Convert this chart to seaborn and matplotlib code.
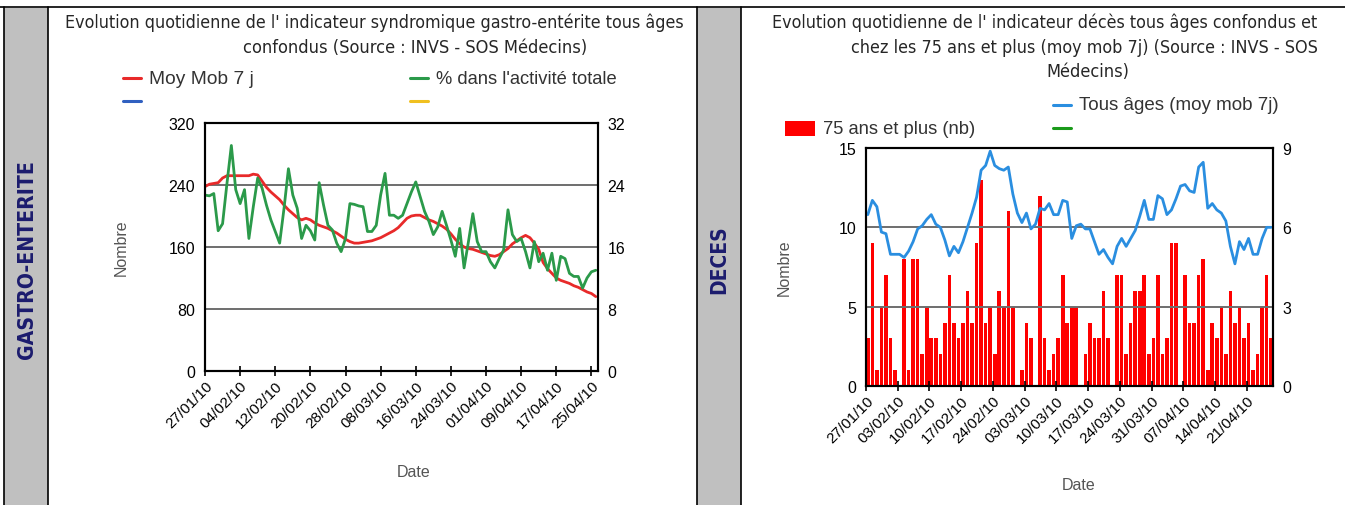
import numpy as np
import pandas as pd
import seaborn as sns
import matplotlib.pyplot as plt
from matplotlib import font_manager
from matplotlib.lines import Line2D
from matplotlib.patches import Rectangle

# ---- donnees gastro-enterite (27/01/10 -> 26/04/10)
gastro_days = np.arange(90)
gastro_moy = [238, 241, 242, 243, 249, 252, 252, 252, 252, 252, 252, 254, 253, 245, 237,
              231, 226, 221, 214, 208, 203, 198, 195, 197, 195, 191, 188, 186, 184, 181,
              178, 174, 170, 167, 165, 165, 166, 167, 168, 170, 172, 175, 178, 181, 185,
              191, 197, 200, 201, 201, 198, 195, 193, 190, 187, 183, 177, 170, 164, 160,
              158, 157, 155, 153, 151, 149, 148, 150, 154, 158, 164, 168, 172, 175, 172,
              165, 157, 140, 132, 126, 120, 117, 115, 113, 110, 108, 105, 102, 100, 96]
gastro_pct = [22.7, 22.6, 22.9, 18.1, 19.0, 24.2, 29.1, 23.4, 21.6, 23.4, 17.1, 21.2, 24.9, 23.6, 21.4,
              19.5, 18.0, 16.5, 21.0, 26.1, 22.7, 21.0, 17.1, 18.8, 18.1, 16.9, 24.3, 21.4, 18.8, 18.2,
              16.5, 15.4, 17.1, 21.6, 21.5, 21.3, 21.2, 18.0, 18.0, 18.8, 22.7, 25.5, 20.1, 20.1, 19.7,
              20.1, 21.6, 23.1, 24.4, 22.5, 20.6, 19.3, 17.6, 18.6, 20.6, 18.8, 16.9, 14.8, 18.4, 13.3,
              16.7, 20.3, 16.7, 15.4, 15.4, 14.1, 13.3, 14.5, 15.6, 20.8, 17.6, 16.7, 17.1, 15.4, 13.3,
              16.7, 14.1, 15.2, 13.0, 15.2, 11.7, 14.8, 14.5, 12.6, 12.2, 12.2, 10.7, 12.0, 12.8, 13.0]
gastro_ticks = ['27/01/10', '04/02/10', '12/02/10', '20/02/10', '28/02/10', '08/03/10',
                '16/03/10', '24/03/10', '01/04/10', '09/04/10', '17/04/10', '25/04/10']

# ---- donnees deces (27/01/10 -> 26/04/10)
deces_days = np.arange(90)
deces_75 = [3, 9, 1, 5, 7, 3, 1, 0, 8, 1, 8, 8, 2, 5, 3, 3, 2, 4, 7, 4, 3, 4, 6, 4, 9,
            13, 4, 5, 2, 6, 5, 11, 5, 0, 1, 4, 3, 0, 12, 3, 1, 2, 3, 7, 4, 5, 5, 0, 2, 4,
            3, 3, 6, 3, 0, 7, 7, 2, 4, 6, 6, 7, 2, 3, 7, 2, 3, 9, 9, 0, 7, 4, 4, 7, 8,
            1, 4, 3, 5, 2, 6, 4, 5, 3, 4, 1, 2, 5, 7, 3]
# moyenne mobile tous ages (echelle de droite 0-9)
deces_tous = [6.48, 7.02, 6.78, 5.82, 5.76, 4.98, 4.98, 4.98, 4.86, 5.10, 5.46, 5.94, 6.06, 6.30, 6.48,
              6.12, 6.00, 5.52, 4.92, 5.28, 5.04, 5.46, 6.00, 6.54, 7.14, 8.16, 8.34, 8.88, 8.34, 8.22,
              8.16, 8.28, 7.26, 6.54, 6.18, 6.54, 5.94, 6.12, 6.72, 6.66, 6.90, 6.48, 6.48, 7.02, 6.96,
              5.58, 6.06, 6.12, 5.94, 5.94, 5.46, 4.98, 5.16, 4.86, 4.62, 5.28, 5.58, 5.28, 5.58, 5.88,
              6.42, 7.02, 6.30, 6.30, 7.20, 7.08, 6.48, 6.66, 7.08, 7.56, 7.62, 7.38, 7.32, 8.28, 8.46,
              6.72, 6.90, 6.66, 6.54, 6.24, 5.28, 4.62, 5.46, 5.16, 5.58, 4.98, 4.98, 5.58, 6.00, 6.00]
deces_ticks = ['27/01/10', '03/02/10', '10/02/10', '17/02/10', '24/02/10', '03/03/10', '10/03/10',
               '17/03/10', '24/03/10', '31/03/10', '07/04/10', '14/04/10', '21/04/10']

day_labels = list(pd.date_range('2010-01-27', periods=90).strftime('%d/%m/%y'))

RED, GREEN, BLUE = '#e82a2a', '#2b9a4a', '#2a8ee0'

sns.set_style('white')
plt.rcParams['font.family'] = ['Liberation Sans', 'DejaVu Sans']

names = {f.name for f in font_manager.fontManager.ttflist}
NARROW = 'Liberation Sans Narrow' if 'Liberation Sans Narrow' in names else 'DejaVu Sans'

W, H = 1345, 506
fig = plt.figure(figsize=(W / 100, H / 100), dpi=100)


def fx(x):
    return x / W


def fy(y):
    return 1 - y / H


def fit_text(t, length):
    # ajuste la taille de police pour obtenir la longueur voulue (px)
    r = fig.canvas.get_renderer()
    bb = t.get_window_extent(r)
    cur = bb.height if t.get_rotation() else bb.width
    t.set_fontsize(t.get_fontsize() * length / cur)


def narrow_text(x, y, s, length, **kw):
    t = fig.text(fx(x), fy(y), s, family=NARROW, fontstretch='condensed', va='center', **kw)
    fit_text(t, length)
    return t


def legend_line(x, y, color, label=None, length=None):
    fig.add_artist(Line2D([fx(x), fx(x + 18)], [fy(y)] * 2, color=color, lw=2.2))
    if label:
        t = fig.text(fx(x + 26), fy(y), label, va='center', ha='left', color='#333333', fontsize=11)
        fit_text(t, length)


# ---- cadres et bandeaux gris
for x0, x1 in [(4, 48), (697, 741)]:
    fig.add_artist(Rectangle((fx(x0), 0), fx(x1) - fx(x0), fy(9), facecolor='#c0c0c0', edgecolor='none'))
    for xx in (x0, x1):
        fig.add_artist(Line2D([fx(xx)] * 2, [0, fy(8)], color='black', lw=1.2))
fig.add_artist(Line2D([0, 1], [fy(8)] * 2, color='black', lw=1.2))

narrow_text(27, 260, 'GASTRO-ENTERITE', 198, rotation=90, ha='center', color='#1c1c6e', weight='bold')
narrow_text(719, 260, 'DECES', 68, rotation=90, ha='center', color='#1c1c6e', weight='bold')

# ---- titres
narrow_text(65, 23, "Evolution quotidienne de l' indicateur syndromique gastro-entérite tous âges", 618, ha='left')
narrow_text(243, 48, 'confondus (Source : INVS - SOS Médecins)', 345, ha='left')
narrow_text(772, 23, "Evolution quotidienne de l' indicateur décès tous âges confondus et", 544, ha='left')
narrow_text(851, 48, 'chez les 75 ans et plus (moy mob 7j) (Source : INVS - SOS', 468, ha='left')
narrow_text(1046, 72, 'Médecins)', 83, ha='left')

# ---- legendes
legend_line(123, 79, RED, 'Moy Mob 7 j', 104)
legend_line(410, 79, GREEN, "% dans l'activité totale", 181)
legend_line(123, 102, '#3060c0')
legend_line(410, 102, '#f0c020')
legend_line(1053, 106, BLUE, 'Tous âges (moy mob 7j)', 199)
legend_line(1053, 129, '#1a9a1a')
fig.add_artist(Rectangle((fx(785), fy(137)), fx(815) - fx(785), fy(122) - fy(137),
                         facecolor='#ff0000', edgecolor='none'))
t = fig.text(fx(823), fy(130), '75 ans et plus (nb)', va='center', ha='left', color='#333333', fontsize=11)
fit_text(t, 152)


def style_axes(ax, ax2):
    for a in (ax, ax2):
        for s in a.spines.values():
            s.set_visible(True)
            s.set_color('black')
            s.set_linewidth(1.5)
    ax.tick_params(axis='y', length=0, pad=7, labelsize=11.5, labelcolor='black')
    ax2.tick_params(axis='y', length=0, pad=7, labelsize=11.5, labelcolor='black')
    ax.tick_params(axis='x', direction='inout', length=7, width=1.2, color='black',
                   labelsize=11, labelcolor='black', pad=2, bottom=True)
    ax.yaxis.grid(True, color='#6e6e6e', lw=1.4)
    ax.xaxis.grid(False)
    ax2.grid(False)
    ax.set_ylabel('Nombre', color='#555555', fontsize=11.5)
    ax.set_xlabel('Date', color='#555555', fontsize=11.5)
    ax2.set_ylabel('')
    for lab in ax.get_xticklabels():
        lab.set_rotation(45)
        lab.set_ha('right')
        lab.set_rotation_mode('anchor')


# ---- graphique gastro-enterite
ax = fig.add_axes([fx(205), fy(372), fx(598) - fx(205), fy(124) - fy(372)])
ax2 = ax.twinx()
sns.lineplot(x=gastro_days, y=gastro_moy, ax=ax, color=RED, lw=2)
sns.lineplot(x=gastro_days, y=gastro_pct, ax=ax2, color=GREEN, lw=2)
ax.set_ylim(0, 320)
ax.set_yticks([0, 80, 160, 240, 320])
ax2.set_ylim(0, 32)
ax2.set_yticks([0, 8, 16, 24, 32])
ax.set_xlim(0, 89.5)
ax.set_xticks([day_labels.index(d) for d in gastro_ticks])
ax.set_xticklabels(gastro_ticks)
style_axes(ax, ax2)
ax.yaxis.set_label_coords(-0.193, 0.5)
ax.xaxis.set_label_coords(0.53, -0.375)

# ---- graphique deces
bx = fig.add_axes([fx(866), fy(387), fx(1273) - fx(866), fy(149) - fy(387)])
sns.barplot(x=deces_days, y=deces_75, ax=bx, color='#ff0000', width=0.8,
            errorbar=None, saturation=1, linewidth=0)
bx2 = bx.twinx()
sns.lineplot(x=deces_days, y=deces_tous, ax=bx2, color=BLUE, lw=2)
bx.set_ylim(0, 15)
bx.set_yticks([0, 5, 10, 15])
bx2.set_ylim(0, 9)
bx2.set_yticks([0, 3, 6, 9])
bx.set_xlim(-0.4, 89.4)
bx.set_xticks([day_labels.index(d) - 0.4 for d in deces_ticks])
bx.set_xticklabels(deces_ticks)
style_axes(bx, bx2)
bx.set_axisbelow(False)
bx.yaxis.set_label_coords(-0.182, 0.5)
bx.xaxis.set_label_coords(0.523, -0.382)

fig.savefig('out.png', dpi=100)
